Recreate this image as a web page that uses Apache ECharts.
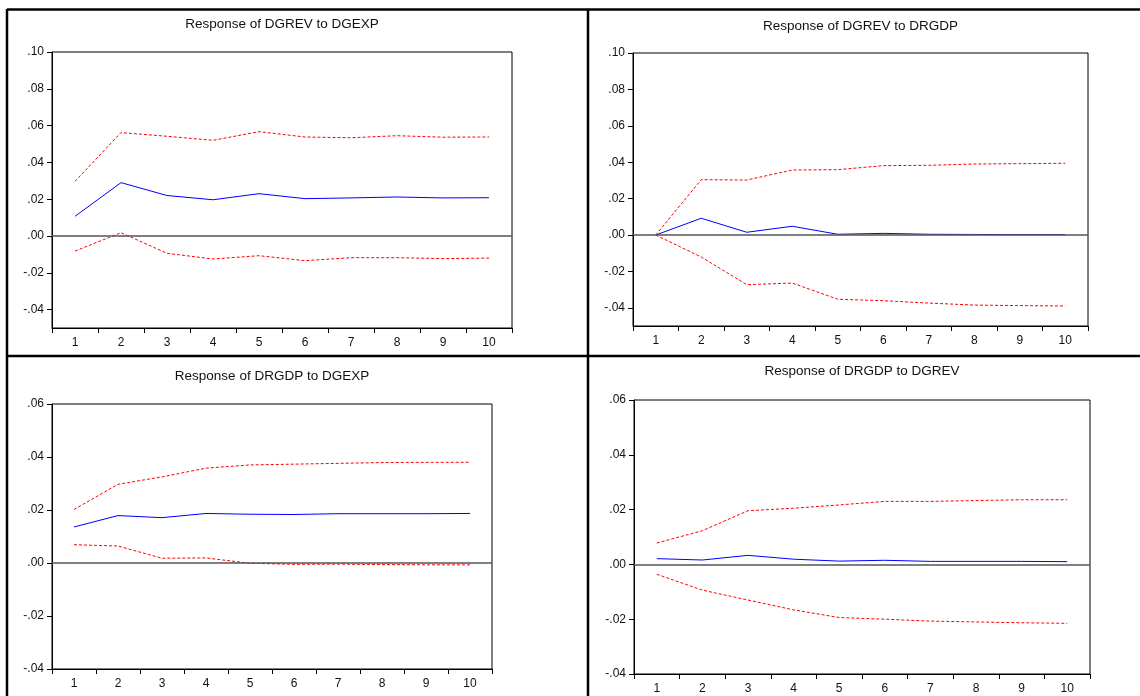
<!DOCTYPE html>
<html>
<head>
<meta charset="utf-8">
<script src="https://cdn.jsdelivr.net/npm/echarts@6/dist/echarts.min.js"></script>
<style>
  html, body { margin: 0; padding: 0; background: #fff; }
  #chart { width: 1140px; height: 696px; }
</style>
</head>
<body>
<div id="chart"></div>
<script>
// impulse responses, periods 1..10
var periods = ['1', '2', '3', '4', '5', '6', '7', '8', '9', '10'];

// Response of DGREV to DGEXP
var revExpResp  = [0.0107, 0.0290, 0.0220, 0.0197, 0.0230, 0.0203, 0.0207, 0.0212, 0.0207, 0.0208];
var revExpUpper = [0.0297, 0.0562, 0.0542, 0.0520, 0.0567, 0.0538, 0.0534, 0.0545, 0.0537, 0.0538];
var revExpLower = [-0.0082, 0.0018, -0.0094, -0.0125, -0.0107, -0.0134, -0.0118, -0.0118, -0.0123, -0.0120];

// Response of DGREV to DRGDP
var revGdpResp  = [0.0000, 0.0092, 0.0015, 0.0048, 0.0004, 0.0009, 0.0004, 0.0003, 0.0002, 0.0002];
var revGdpUpper = [0.0000, 0.0304, 0.0302, 0.0357, 0.0359, 0.0381, 0.0383, 0.0390, 0.0392, 0.0394];
var revGdpLower = [0.0000, -0.0121, -0.0273, -0.0264, -0.0353, -0.0361, -0.0374, -0.0385, -0.0388, -0.0390];

// Response of DRGDP to DGEXP
var gdpExpResp  = [0.0136, 0.0179, 0.0171, 0.0187, 0.0184, 0.0183, 0.0186, 0.0186, 0.0186, 0.0187];
var gdpExpUpper = [0.0202, 0.0297, 0.0325, 0.0358, 0.0370, 0.0373, 0.0376, 0.0379, 0.0380, 0.0380];
var gdpExpLower = [0.0069, 0.0064, 0.0018, 0.0019, -0.0001, -0.0005, -0.0004, -0.0006, -0.0007, -0.0007];

// Response of DRGDP to DGREV
var gdpRevResp  = [0.0021, 0.0016, 0.0033, 0.0019, 0.0012, 0.0015, 0.0011, 0.0011, 0.0011, 0.0010];
var gdpRevUpper = [0.0078, 0.0123, 0.0196, 0.0205, 0.0217, 0.0230, 0.0230, 0.0233, 0.0236, 0.0236];
var gdpRevLower = [-0.0036, -0.0094, -0.0130, -0.0166, -0.0194, -0.0200, -0.0207, -0.0210, -0.0213, -0.0215];

var ticksTop = [-0.04, -0.02, 0, 0.02, 0.04, 0.06, 0.08, 0.10];
var ticksBottom = [-0.04, -0.02, 0, 0.02, 0.04, 0.06];

var panels = [
    {title: 'Response of DGREV to DGEXP', resp: revExpResp, up: revExpUpper, lo: revExpLower,
     ticks: ticksTop, min: -0.05, max: 0.10, box: [52, 52, 460, 276], titleY: 24},
    {title: 'Response of DGREV to DRGDP', resp: revGdpResp, up: revGdpUpper, lo: revGdpLower,
     ticks: ticksTop, min: -0.05, max: 0.10, box: [633, 53, 455, 273], titleY: 26},
    {title: 'Response of DRGDP to DGEXP', resp: gdpExpResp, up: gdpExpUpper, lo: gdpExpLower,
     ticks: ticksBottom, min: -0.04, max: 0.06, box: [52, 404, 440, 265], titleY: 376},
    {title: 'Response of DRGDP to DGREV', resp: gdpRevResp, up: gdpRevUpper, lo: gdpRevLower,
     ticks: ticksBottom, min: -0.04, max: 0.06, box: [634, 400, 456, 274], titleY: 371}
];

var font = 'Liberation Sans, Arial, sans-serif';
function fmt(v) {
    return v.toFixed(2).replace('0.', '.');
}

var grid = [], xAxis = [], yAxis = [], series = [], title = [];
panels.forEach(function (p, i) {
    grid.push({
        left: p.box[0], top: p.box[1], width: p.box[2], height: p.box[3],
        show: true, borderColor: '#000', borderWidth: 1, backgroundColor: '#fff'
    });
    title.push({
        text: p.title,
        left: p.box[0] + p.box[2] / 2,
        top: p.titleY - 8,
        textAlign: 'center',
        padding: 0,
        textStyle: {fontFamily: font, fontSize: 13.5, fontWeight: 'normal', color: '#111', lineHeight: 16}
    });
    xAxis.push({
        type: 'category', gridIndex: i, data: periods, boundaryGap: true,
        axisLine: {onZero: false, lineStyle: {color: '#000', width: 1}},
        axisTick: {show: true, length: 5, lineStyle: {color: '#000'}},
        axisLabel: {margin: 9, fontFamily: font, fontSize: 12, color: '#111'},
        splitLine: {show: false}
    });
    yAxis.push({
        type: 'value', gridIndex: i, min: p.min, max: p.max,
        axisLine: {show: true, onZero: false, lineStyle: {color: '#000', width: 1}},
        axisTick: {show: true, length: 5, customValues: p.ticks, lineStyle: {color: '#000'}},
        axisLabel: {margin: 8, customValues: p.ticks, fontFamily: font, fontSize: 12, color: '#111',
                    formatter: function (v) { return fmt(v); }},
        splitLine: {show: false}
    });
    series.push({
        type: 'line', xAxisIndex: i, yAxisIndex: i, data: p.resp,
        symbol: 'none', lineStyle: {color: '#0000ff', width: 1}, z: 4,
        markLine: {
            silent: true, symbol: 'none', label: {show: false},
            lineStyle: {color: '#555', width: 1.5, type: 'solid'},
            data: [{yAxis: 0}]
        }
    });
    [p.up, p.lo].forEach(function (band) {
        series.push({
            type: 'line', xAxisIndex: i, yAxisIndex: i, data: band,
            symbol: 'none', lineStyle: {color: '#ff0000', width: 1, type: [3, 2]}, z: 3
        });
    });
});

// panel frame lines
var frame = [
    [7, 9.5, 1140, 9.5],
    [7, 9, 7, 696],
    [7, 356, 1140, 356],
    [588, 9, 588, 696]
].map(function (s) {
    return {type: 'line', silent: true, z: 100,
            shape: {x1: s[0], y1: s[1], x2: s[2], y2: s[3]},
            style: {stroke: '#000', lineWidth: 2.5}};
});

var myChart = echarts.init(document.getElementById('chart'));
myChart.setOption({
    animation: false,
    backgroundColor: '#fff',
    title: title,
    grid: grid,
    xAxis: xAxis,
    yAxis: yAxis,
    series: series,
    graphic: frame
});
</script>
</body>
</html>
